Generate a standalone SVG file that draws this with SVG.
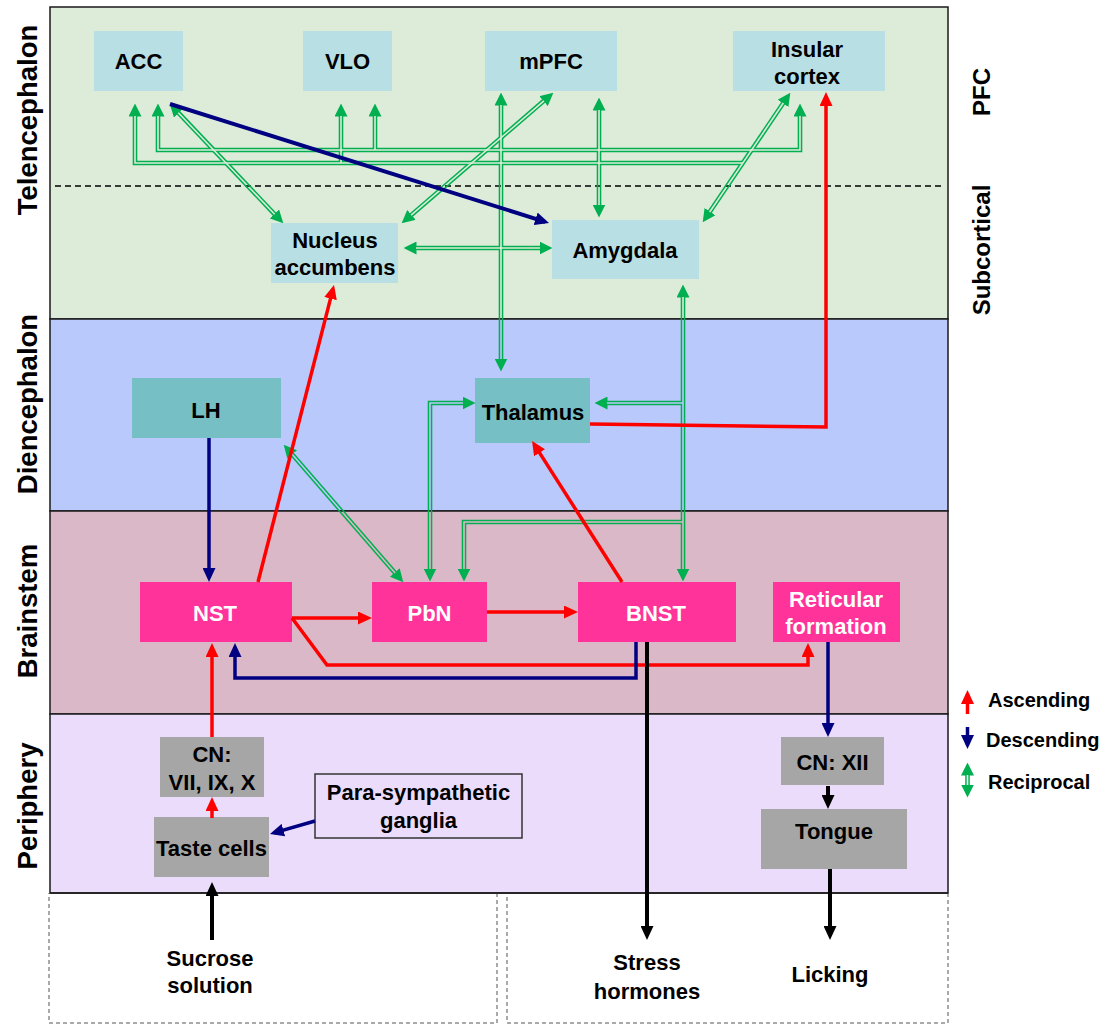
<svg xmlns="http://www.w3.org/2000/svg" width="1114" height="1025" viewBox="0 0 1114 1025">
<style>
.t{font-family:"Liberation Sans",Arial,sans-serif;font-weight:bold;font-size:22px;text-anchor:middle;fill:#000}
.w{fill:#fff}
.side{font-size:27.5px}
.rside{font-size:24px}
.leg{font-size:20px;text-anchor:start}
.pb{fill:#B8DFE3}
.teal{fill:#76BFC4}
.pink{fill:#FF3399}
.gray{fill:#A6A6A6}
.panel{stroke:#1a1a1a;stroke-width:1.5}
.g{fill:none;stroke:#00B050;stroke-width:4.6;marker-end:url(#ga)}
.g2{marker-start:url(#ga)}
.gm{fill:none;stroke:#000;stroke-width:1.6}
.r{fill:none;stroke:#FF0000;stroke-width:3.5;marker-end:url(#ra)}
.b{fill:none;stroke:#000080;stroke-width:3.5;marker-end:url(#ba)}
.k{fill:none;stroke:#000;stroke-width:4;marker-end:url(#ka)}
</style>
<defs>
<marker id="ga" markerUnits="userSpaceOnUse" markerWidth="13" markerHeight="13" viewBox="0 0 13 13" refX="0.5" refY="6.5" orient="auto-start-reverse"><path d="M0,0 L13,6.5 L0,13 z" fill="#00B050"/></marker>
<marker id="ra" markerUnits="userSpaceOnUse" markerWidth="14" markerHeight="13" viewBox="0 0 14 13" refX="10" refY="6.5" orient="auto"><path d="M0,0 L14,6.5 L0,13 z" fill="#FF0000"/></marker>
<marker id="ba" markerUnits="userSpaceOnUse" markerWidth="14" markerHeight="13" viewBox="0 0 14 13" refX="10" refY="6.5" orient="auto"><path d="M0,0 L14,6.5 L0,13 z" fill="#000080"/></marker>
<marker id="ka" markerUnits="userSpaceOnUse" markerWidth="14" markerHeight="13" viewBox="0 0 14 13" refX="10" refY="6.5" orient="auto"><path d="M0,0 L14,6.5 L0,13 z" fill="#000"/></marker>
<mask id="gap" maskUnits="userSpaceOnUse" x="0" y="0" width="1114" height="1025">
<rect x="0" y="0" width="1114" height="1025" fill="#fff"/>
<g class="gm">
<path d="M743,163 H135 V116"/>
<path d="M341,163 V116"/>
<path d="M800,116 V150 H158 V116"/>
<path d="M375,150 V116"/>
<path d="M178.3,112.7 L274.7,214.3"/>
<path d="M543.9,100.8 L411.1,215.2"/>
<path d="M501,105 V359"/>
<path d="M599,110 V205"/>
<path d="M783.3,103 L709.7,212"/>
<path d="M416,248 H540"/>
<path d="M683,297 V569"/>
<path d="M683,403 H607"/>
<path d="M683,522 H464 V569"/>
<path d="M430,569 V403 H463"/>
<path d="M291.9,454.1 L395.1,572.9"/>
<path d="M967.5,775 V785"/>
</g>
</mask>
</defs>

<rect x="0" y="0" width="1114" height="1025" fill="#fff"/>

<g id="panels">
<rect class="panel" x="50" y="7" width="898" height="312" fill="#DDEBD9"/>
<rect class="panel" x="50" y="319" width="898" height="192" fill="#B9C9FC"/>
<rect class="panel" x="50" y="511" width="898" height="203" fill="#DBB8C8"/>
<rect class="panel" x="50" y="714" width="898" height="179" fill="#ECDCFC"/>
<line x1="55" y1="186" x2="945" y2="186" stroke="#000" stroke-width="1.3" stroke-dasharray="6,4"/>
<rect x="49" y="893" width="448" height="130" fill="none" stroke="#555" stroke-width="1" stroke-dasharray="4,3"/>
<rect x="507" y="893" width="441" height="130" fill="none" stroke="#555" stroke-width="1" stroke-dasharray="4,3"/>
<line x1="50" y1="893" x2="948" y2="893" stroke="#1a1a1a" stroke-width="1.5"/>
</g>

<g id="region-labels">
<text class="t side" transform="translate(37,120) rotate(-90)">Telencephalon</text>
<text class="t side" transform="translate(37,404) rotate(-90)">Diencephalon</text>
<text class="t side" transform="translate(37,611) rotate(-90)">Brainstem</text>
<text class="t side" transform="translate(37,806) rotate(-90)">Periphery</text>
<text class="t rside" transform="translate(990,92) rotate(-90)">PFC</text>
<text class="t rside" transform="translate(990,250) rotate(-90)">Subcortical</text>
</g>

<g id="node-acc"><rect class="pb" x="94" y="31" width="89" height="60"/><text class="t" x="138.5" y="69">ACC</text></g>
<g id="node-vlo"><rect class="pb" x="303" y="31" width="89" height="60"/><text class="t" x="347.5" y="69">VLO</text></g>
<g id="node-mpfc"><rect class="pb" x="485" y="31" width="132" height="60"/><text class="t" x="551" y="69">mPFC</text></g>
<g id="node-insular"><rect class="pb" x="733" y="31" width="152" height="60"/><text class="t" x="807" y="57">Insular</text><text class="t" x="807" y="84">cortex</text></g>
<g id="node-nacc"><rect class="pb" x="271" y="223" width="127" height="60"/><text class="t" x="335" y="248">Nucleus</text><text class="t" x="335" y="275">accumbens</text></g>
<g id="node-amygdala"><rect class="pb" x="552" y="220" width="147" height="59"/><text class="t" x="625" y="258">Amygdala</text></g>
<g id="node-lh"><rect class="teal" x="132" y="378" width="149" height="60"/><text class="t" x="206" y="418">LH</text></g>
<g id="node-thalamus"><rect class="teal" x="475" y="378" width="115" height="65"/><text class="t" x="533" y="420">Thalamus</text></g>
<g id="node-nst"><rect class="pink" x="140" y="582" width="152" height="60"/><text class="t w" x="215" y="621">NST</text></g>
<g id="node-pbn"><rect class="pink" x="372" y="582" width="115" height="60"/><text class="t w" x="429.5" y="621">PbN</text></g>
<g id="node-bnst"><rect class="pink" x="578" y="582" width="158" height="60"/><text class="t w" x="656" y="621">BNST</text></g>
<g id="node-rf"><rect class="pink" x="773" y="582" width="127" height="60"/><text class="t w" x="836" y="607">Reticular</text><text class="t w" x="836" y="634">formation</text></g>
<g id="node-cn"><rect class="gray" x="160" y="737" width="104" height="60"/><text class="t" x="212" y="762">CN:</text><text class="t" x="212" y="790">VII, IX, X</text></g>
<g id="node-taste"><rect class="gray" x="154" y="817" width="115" height="60"/><text class="t" x="211.5" y="856">Taste cells</text></g>
<g id="node-para"><rect x="315" y="774" width="207" height="64" fill="#ECDCFC" stroke="#333" stroke-width="1.5"/><text class="t" x="418.5" y="800">Para-sympathetic</text><text class="t" x="418.5" y="828">ganglia</text></g>
<g id="node-cnxii"><rect class="gray" x="781" y="737" width="103" height="48"/><text class="t" x="832.5" y="770">CN: XII</text></g>
<g id="node-tongue"><rect class="gray" x="761" y="809" width="146" height="60"/><text class="t" x="834" y="839">Tongue</text></g>
<g id="node-sucrose"><text class="t" x="210" y="966">Sucrose</text><text class="t" x="210" y="993">solution</text></g>
<g id="node-stress"><text class="t" x="647" y="970">Stress</text><text class="t" x="647" y="999">hormones</text></g>
<g id="node-licking"><text class="t" x="830" y="982">Licking</text></g>

<g id="connectors">
<g mask="url(#gap)">
<path class="g" d="M743,163 H135 V116"/>
<path class="g" d="M341,163 V116"/>
<path class="g g2" d="M800,116 V150 H158 V116"/>
<path class="g" d="M375,150 V116"/>
<path class="g g2" d="M178.3,112.7 L274.7,214.3"/>
<path class="g g2" d="M543.9,100.8 L411.1,215.2"/>
<path class="g g2" d="M501,105 V359"/>
<path class="g g2" d="M599,110 V205"/>
<path class="g g2" d="M783.3,103 L709.7,212"/>
<path class="g g2" d="M416,248 H540"/>
<path class="g g2" d="M683,297 V569"/>
<path class="g" d="M683,403 H607"/>
<path class="g" d="M683,522 H464 V569"/>
<path class="g g2" d="M430,569 V403 H463"/>
<path class="g g2" d="M291.9,454.1 L395.1,572.9"/>
</g>
<path class="r" d="M258,582 L333,288.9"/>
<path class="r" d="M292,618 H368"/>
<path class="r" d="M292,618 L327,665 H808 V647"/>
<path class="r" d="M487,612 H574"/>
<path class="r" d="M622,582 L534.2,444.4"/>
<path class="r" d="M590,424 L826,427 V96"/>
<path class="r" d="M212,737 V647"/>
<path class="r" d="M212,818 V801"/>
<path class="b" style="stroke-width:4" d="M170,104 L545.2,221.8"/>
<path class="b" d="M209,438 V578"/>
<path class="b" d="M636,642 V678 H235 V647"/>
<path class="b" d="M828,642 V733"/>
<path class="b" d="M315,821 L273.8,832.9"/>
<path class="k" d="M647,642 V936"/>
<path class="k" d="M828,786 V805"/>
<path class="k" d="M830,869 V936"/>
<path class="k" d="M212,940 V886"/>
</g>

<g id="legend">
<path class="r" d="M967.5,714 V694"/>
<path class="b" d="M967.5,727 V745"/>
<g mask="url(#gap)"><path class="g g2" d="M967.5,775 V785"/></g>
<text class="t leg" x="988" y="707">Ascending</text>
<text class="t leg" x="986" y="747">Descending</text>
<text class="t leg" x="988" y="789">Reciprocal</text>
</g>
</svg>
